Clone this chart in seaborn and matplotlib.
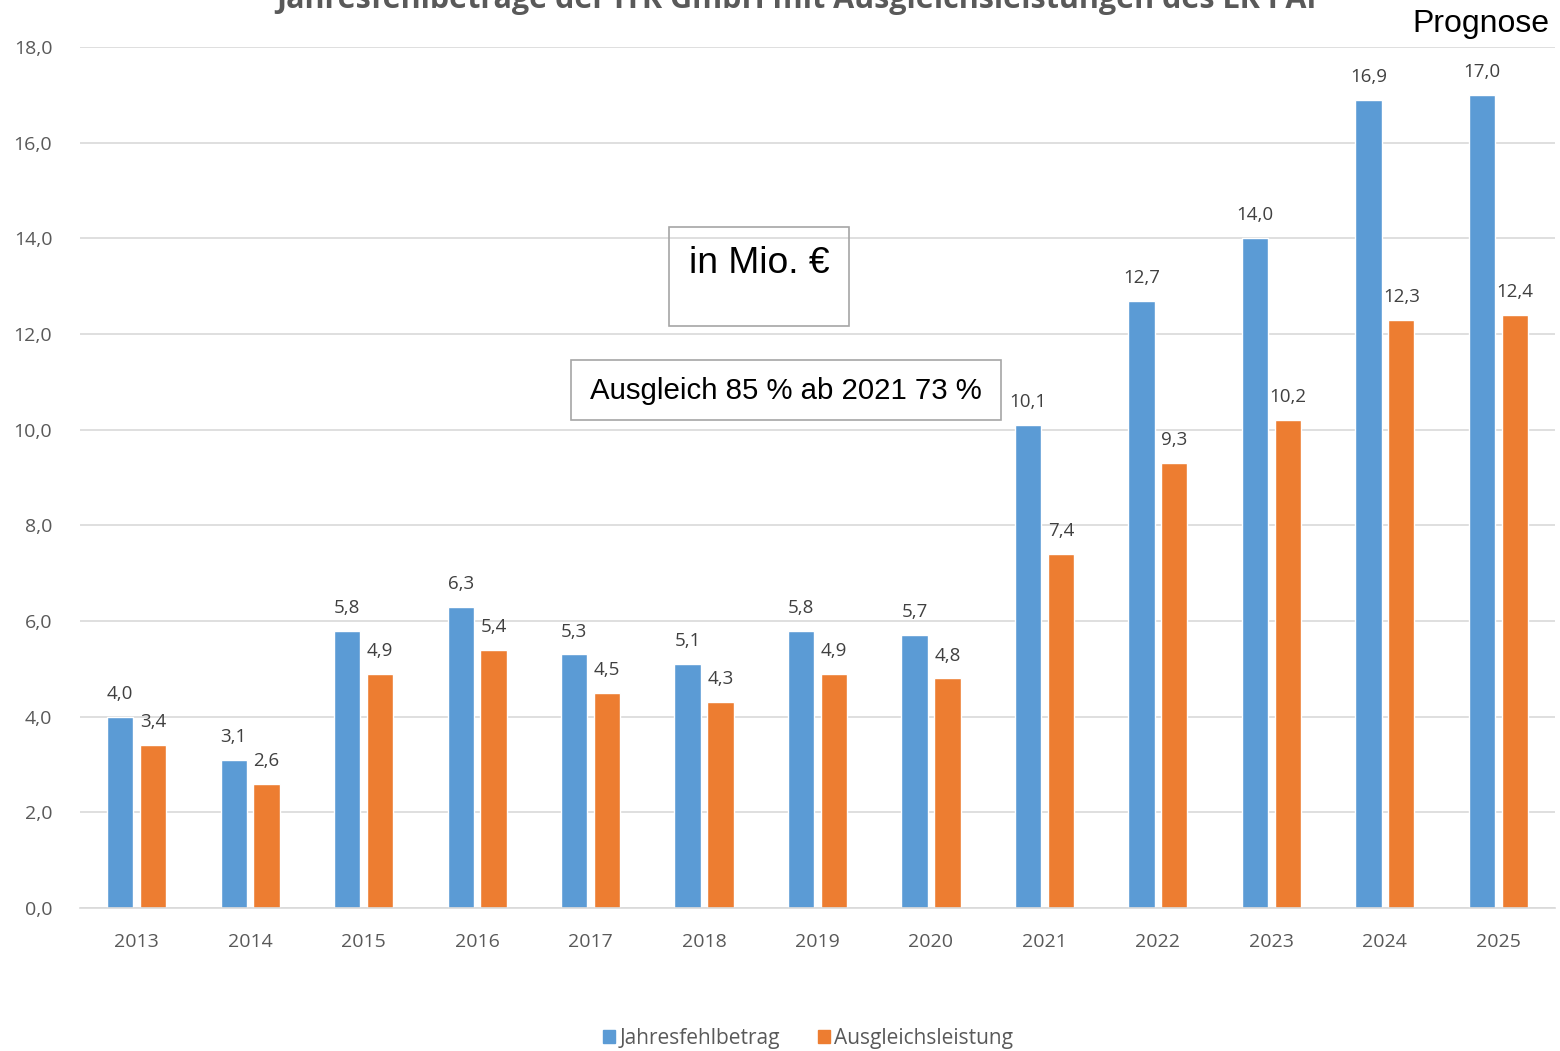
import numpy as np
import pandas as pd
import matplotlib
matplotlib.use("Agg")
import matplotlib.pyplot as plt
import seaborn as sns

years = ['2013', '2014', '2015', '2016', '2017', '2018', '2019', '2020',
         '2021', '2022', '2023', '2024', '2025']
fehlbetrag = [4.0, 3.1, 5.8, 6.3, 5.3, 5.1, 5.8, 5.7, 10.1, 12.7, 14.0, 16.9, 17.0]
ausgleich = [3.4, 2.6, 4.9, 5.4, 4.5, 4.3, 4.9, 4.8, 7.4, 9.3, 10.2, 12.3, 12.4]
series = ['Jahresfehlbetrag', 'Ausgleichsleistung']
colors = ['#5B9BD5', '#ED7D31']

df = pd.DataFrame({'Jahr': years * 2,
                   'Wert': fehlbetrag + ausgleich,
                   'Serie': [series[0]] * len(years) + [series[1]] * len(years)})

sns.set_style("white")
plt.rcParams['font.family'] = ['Open Sans', 'DejaVu Sans']

fig = plt.figure(figsize=(15.6, 10.51), dpi=100)
ax = fig.add_axes([80 / 1560, 1 - 908 / 1051, 1475 / 1560, (908 - 47) / 1051])

sns.barplot(data=df, x='Jahr', y='Wert', hue='Serie', palette=colors,
            width=0.58, gap=0.2, ax=ax, legend=False, saturation=1)

for cont in ax.containers:
    ax.bar_label(cont, labels=[f'{v:.1f}'.replace('.', ',') for v in cont.datavalues],
                 padding=10, fontsize=13.5, color='#404040')

ax.set_ylim(0, 18)
ax.set_yticks(np.arange(0, 18.1, 2))
ax.set_yticklabels([f'{v:.1f}'.replace('.', ',') for v in np.arange(0, 18.1, 2)])
ax.set_xlim(-0.5, len(years) - 0.5)
ax.set_xlabel('')
ax.set_ylabel('')
ax.yaxis.grid(True, color='#d9d9d9', linewidth=1.2)
ax.set_axisbelow(True)
for s in ['left', 'right', 'top']:
    ax.spines[s].set_visible(False)
ax.spines['bottom'].set_color('#d9d9d9')
ax.spines['bottom'].set_linewidth(1.2)
ax.tick_params(axis='both', length=0, labelsize=14, labelcolor='#595959')
ax.tick_params(axis='x', pad=18)
ax.tick_params(axis='y', pad=20)

# title is cut at the top edge, as in the source
fig.text(0.513, 0.992, 'Jahresfehlbeträge der ITK GmbH mit Ausgleichsleistungen des LK PAF',
         ha='center', va='baseline', fontsize=22, fontweight='bold', color='#595959')
fig.text(0.9935, 1 - 32 / 1051, 'Prognose', ha='right', va='baseline',
         fontsize=23, color='black', family=['Liberation Sans', 'DejaVu Sans'])

# text boxes
fig.patches.append(plt.Rectangle((669 / 1560, 1 - 326 / 1051), 180 / 1560, 99 / 1051,
                                 transform=fig.transFigure, fill=False,
                                 edgecolor='#a6a6a6', linewidth=1.2))
fig.text(759 / 1560, 1 - 273 / 1051, 'in Mio. €', ha='center', va='baseline',
         fontsize=26.8, color='black', family=['Liberation Sans', 'DejaVu Sans'])
fig.patches.append(plt.Rectangle((571 / 1560, 1 - 420 / 1051), 430 / 1560, 60 / 1051,
                                 transform=fig.transFigure, fill=False,
                                 edgecolor='#a6a6a6', linewidth=1.2))
fig.text(786 / 1560, 1 - 399 / 1051, 'Ausgleich 85 % ab 2021 73 %', ha='center',
         va='baseline', fontsize=21.2, color='black', family=['Liberation Sans', 'DejaVu Sans'])

handles = [plt.Rectangle((0, 0), 1, 1, color=c) for c in colors]
leg = fig.legend(handles, series, loc='lower center', bbox_to_anchor=(0.518, -0.016),
                 ncol=2, frameon=False, fontsize=15, handlelength=0.6, handleheight=0.6,
                 handletextpad=0.2, columnspacing=1.8)
for t in leg.get_texts():
    t.set_color('#595959')

fig.savefig('out.png', dpi=100)
